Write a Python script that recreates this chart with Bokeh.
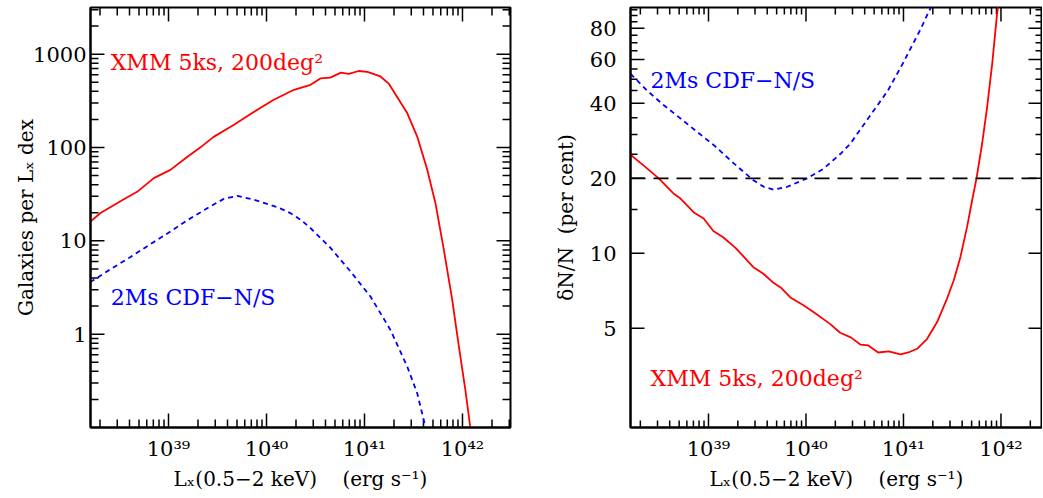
import numpy as np
from bokeh.plotting import figure
from bokeh.models import Range1d, FixedTicker, CustomJSTickFormatter, Label, Span
from bokeh.layouts import row
from bokeh.embed import file_html
from bokeh.resources import INLINE

FONT = "DejaVu Serif"
RED = "#ff0000"
BLUE = "#0000ff"

# ---------------- data ----------------
# Left panel: galaxies per L_x dex
xmm_n_logL = [38.20, 38.31, 38.54, 38.68, 38.85, 39.02, 39.19, 39.33, 39.46, 39.66, 39.87,
              40.07, 40.28, 40.45, 40.55, 40.65, 40.76, 40.84, 40.94, 41.03, 41.163, 41.25,
              41.33, 41.436, 41.538, 41.64, 41.724, 41.81, 41.895, 41.963, 42.03, 42.08, 42.10]
xmm_n = [16, 20, 27.7, 33.5, 47, 57.6, 79, 101, 130, 173, 240,
         323, 415, 470, 550, 560, 635, 615, 660, 645, 577, 480,
         352, 234, 131, 58, 25.3, 8.0, 2.34, 0.74, 0.25, 0.10, 0.075]

cdf_n_logL = [38.20, 38.40, 38.60, 38.80, 39.00, 39.20, 39.40, 39.56, 39.70, 39.87, 40.11,
              40.245, 40.35, 40.449, 40.653, 40.857, 41.061, 41.265, 41.436, 41.538, 41.605,
              41.62, 41.64]
cdf_n = [3.6, 4.9, 6.6, 9.0, 12.2, 16.8, 22.5, 28, 30.3, 27.6, 23,
         19.8, 16.8, 13.7, 8.4, 4.7, 2.53, 1.11, 0.45, 0.233, 0.12,
         0.10, 0.085]

# Right panel: dN/N (per cent)
xmm_d_logL = [38.20, 38.336, 38.49, 38.64, 38.713, 38.85, 38.95, 39.05, 39.15, 39.28, 39.46,
              39.56, 39.67, 39.74, 39.84, 39.97, 40.08, 40.25, 40.35, 40.46, 40.56, 40.64,
              40.74, 40.85, 40.969, 41.05, 41.14, 41.243, 41.345, 41.448, 41.516, 41.585,
              41.653, 41.704, 41.749, 41.807, 41.858, 41.91, 41.96, 41.98]
xmm_d = [24.9, 22.5, 20.0, 17.4, 16.6, 14.6, 13.8, 12.3, 11.6, 10.5, 8.8,
         8.3, 7.6, 7.3, 6.65, 6.2, 5.8, 5.2, 4.8, 4.6, 4.3, 4.27,
         4.0, 4.04, 3.93, 4.0, 4.14, 4.54, 5.3, 6.6, 7.8, 9.7,
         12.8, 16.3, 20, 27.6, 38.6, 57.6, 91.6, 104]

cdf_d_logL = [38.20, 38.371, 38.542, 38.713, 38.884, 39.054, 39.226, 39.362, 39.465, 39.567,
              39.67, 39.807, 40.012, 40.183, 40.354, 40.456, 40.66, 40.84, 41.00, 41.17,
              41.28, 41.32]
cdf_d = [52.6, 45, 39.3, 34.8, 30.7, 27.2, 23.6, 21.2, 19.6, 18.5,
         18.0, 18.5, 20, 21.9, 25.1, 27.6, 35.8, 45, 58.5, 78.6,
         97, 105]

threshold = 20  # per cent

x_major = [1e38, 1e39, 1e40, 1e41, 1e42, 1e43]
x_minor = [m * d for d in [1e37, 1e38, 1e39, 1e40, 1e41, 1e42] for m in range(2, 10)]
yl_major = [1, 10, 100, 1000]
yl_minor = [m * d for d in [0.1, 1, 10, 100, 1000] for m in range(2, 10)]
yr_major = [5, 10, 20, 40, 60, 80]
yr_minor = [15, 25, 30, 35, 45, 50, 55, 65, 70, 75, 85, 90, 95]

label_xmm = "XMM 5ks, 200deg²"
label_cdf = "2Ms CDF−N/S"
xlabel = "Lₓ(0.5−2\u00a0keV)\u00a0\u00a0\u00a0\u00a0(erg\u00a0s⁻¹)"
ylabel_left = "Galaxies per Lₓ dex"
ylabel_right = "δN/N\u00a0\u00a0(per cent)"

pow_fmt = CustomJSTickFormatter(code="""
const e = Math.round(Math.log10(tick));
const sup = {"0":"⁰","1":"¹","2":"²","3":"³","4":"⁴","5":"⁵","6":"⁶","7":"⁷","8":"⁸","9":"⁹","-":"⁻"};
return "10" + String(e).split("").map(c => sup[c]).join("");
""")
num_fmt = CustomJSTickFormatter(code="return String(Math.round(tick));")


def style_axis(ax, major, fmt, font_size="21px", standoff=6):
    ax.ticker = FixedTicker(ticks=major, minor_ticks=[])
    ax.formatter = fmt
    ax.major_tick_in = 0
    ax.major_tick_out = 0
    ax.minor_tick_in = 0
    ax.minor_tick_out = 0
    ax.axis_line_width = 2
    ax.axis_line_color = "black"
    ax.major_label_text_font = FONT
    ax.major_label_text_font_size = font_size
    ax.major_label_text_color = "black"
    ax.major_label_standoff = standoff
    ax.axis_label_text_font = FONT
    ax.axis_label_text_font_size = "20px"
    ax.axis_label_text_font_style = "normal"
    ax.axis_label_text_color = "black"


def draw_ticks(p, xr, yr, xmaj, xmin, ymaj, ymin, maj_len=14, min_len=8):
    # ticks on all four sides of the frame, pointing inwards (half of each marker is clipped)
    xs0, xs1 = xr.start, xr.end
    ys0, ys1 = yr.start, yr.end
    for ticks, size in ((xmaj, 2 * maj_len), (xmin, 2 * min_len)):
        t = [v for v in ticks if xs0 < v < xs1]
        for yedge in (ys0, ys1):
            p.scatter(x=t, y=[yedge] * len(t), marker="dash", size=size, angle=np.pi / 2,
                      line_color="black", line_width=1.5)
    for ticks, size in ((ymaj, 2 * maj_len), (ymin, 2 * min_len)):
        t = [v for v in ticks if ys0 < v < ys1]
        for xedge in (xs0, xs1):
            p.scatter(x=[xedge] * len(t), y=t, marker="dash", size=size, angle=0,
                      line_color="black", line_width=1.5)


def make_fig(xr, yr, frame_w, bl, br):
    p = figure(x_axis_type="log", y_axis_type="log", x_range=xr, y_range=yr,
               frame_width=frame_w, frame_height=420,
               min_border_left=bl, min_border_right=br, min_border_top=7, min_border_bottom=63,
               output_backend="svg", toolbar_location=None)
    p.xgrid.visible = False
    p.ygrid.visible = False
    p.outline_line_color = "black"
    p.outline_line_width = 2
    p.background_fill_color = "white"
    p.border_fill_color = "white"
    return p


# ---------------- left panel ----------------
xr1 = Range1d(10 ** 38.204, 10 ** 42.49)
yr1 = Range1d(0.1, 10 ** 3.5)
p1 = make_fig(xr1, yr1, 420, 90, 10)
style_axis(p1.xaxis[0], x_major, pow_fmt, standoff=9)
style_axis(p1.yaxis[0], yl_major, num_fmt, standoff=4)
p1.xaxis[0].axis_label = xlabel
p1.xaxis[0].axis_label_standoff = 3
p1.yaxis[0].axis_label = ylabel_left
p1.yaxis[0].axis_label_standoff = -8
draw_ticks(p1, xr1, yr1, x_major, x_minor, yl_major, yl_minor, maj_len=14, min_len=8)

p1.line([10 ** v for v in xmm_n_logL], xmm_n, line_color=RED, line_width=1.8)
p1.line([10 ** v for v in cdf_n_logL], cdf_n, line_color=BLUE, line_width=1.8, line_dash="5 4")
p1.add_layout(Label(x=10 ** 38.41, y=809, text=label_xmm, text_color=RED, text_font=FONT,
                    text_font_size="22px", text_baseline="alphabetic"))
p1.add_layout(Label(x=10 ** 38.41, y=2.5, text=label_cdf, text_color=BLUE, text_font=FONT,
                    text_font_size="22px", text_baseline="alphabetic"))

# ---------------- right panel ----------------
xr2 = Range1d(10 ** 38.2, 10 ** 42.426)
yr2 = Range1d(2.0, 97.0)
p2 = make_fig(xr2, yr2, 412, 110, 0)
style_axis(p2.xaxis[0], x_major, pow_fmt, standoff=9)
style_axis(p2.yaxis[0], yr_major, num_fmt, standoff=14)
p2.xaxis[0].axis_label = xlabel
p2.xaxis[0].axis_label_standoff = 3
p2.yaxis[0].axis_label = ylabel_right
p2.yaxis[0].axis_label_standoff = 9
draw_ticks(p2, xr2, yr2, x_major, x_minor, yr_major, yr_minor, maj_len=14, min_len=7)

p2.add_layout(Span(location=threshold, dimension="width", line_color="black",
                   line_width=1.8, line_dash="15 8"))
p2.line([10 ** v for v in xmm_d_logL], xmm_d, line_color=RED, line_width=1.8)
p2.line([10 ** v for v in cdf_d_logL], cdf_d, line_color=BLUE, line_width=1.8, line_dash="5 4")
p2.add_layout(Label(x=10 ** 38.405, y=49.5, text=label_cdf, text_color=BLUE, text_font=FONT,
                    text_font_size="22px", text_baseline="alphabetic"))
p2.add_layout(Label(x=10 ** 38.405, y=3.15, text=label_xmm, text_color=RED, text_font=FONT,
                    text_font_size="22px", text_baseline="alphabetic"))

layout = row(p1, p2)
open("out.html", "w").write(file_html(layout, INLINE))
